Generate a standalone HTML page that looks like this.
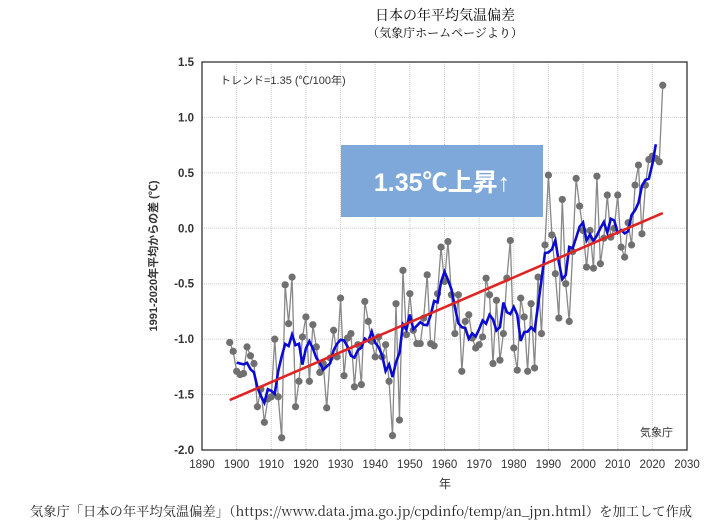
<!DOCTYPE html>
<html><head><meta charset="utf-8"><style>
body{margin:0;background:#fff;width:708px;height:525px;overflow:hidden;font-family:"Liberation Sans","Noto Sans CJK JP",sans-serif}
svg{display:block}
</style></head><body>
<svg id="c" width="708" height="525" xmlns="http://www.w3.org/2000/svg">
<text x="445" y="20" text-anchor="middle" font-size="14" font-family="'Noto Serif CJK SC','Noto Sans CJK JP',serif">日本の年平均気温偏差</text>
<text x="445" y="37" text-anchor="middle" font-size="12" font-family="'Noto Serif CJK SC','Noto Sans CJK JP',serif">（気象庁ホームページより）</text>
<g id="grid"></g>
<g id="axes"></g>
<g id="marks"></g>
<rect x="341" y="145" width="202" height="72" fill="#7fa8da"/>
<text x="442" y="191" text-anchor="middle" font-size="25" font-weight="bold" fill="#fff" font-family="'Liberation Sans','Noto Sans CJK JP',sans-serif">1.35℃上昇↑</text>
<text x="220" y="84" font-size="11" fill="#333" font-family="'Liberation Sans','Noto Sans CJK JP',sans-serif">トレンド=1.35 (℃/100年)</text>
<text x="640" y="436" font-size="11" fill="#333" font-family="'Noto Sans CJK JP',sans-serif">気象庁</text>
<text x="157" y="256" transform="rotate(-90 157 256)" text-anchor="middle" font-size="11" font-weight="bold" fill="#333" font-family="'Liberation Sans','Noto Sans CJK JP',sans-serif">1991-2020年平均からの差 (℃)</text>
<text x="445" y="488" text-anchor="middle" font-size="12" fill="#333" font-family="'Noto Sans CJK JP',sans-serif">年</text>
<text x="30" y="516" font-size="13.2" fill="#222" textLength="662" lengthAdjust="spacingAndGlyphs" font-family="'Noto Serif CJK SC','Noto Sans CJK JP',serif">気象庁「日本の年平均気温偏差」（https://www.data.jma.go.jp/cpdinfo/temp/an_jpn.html）を加工して作成</text>
</svg>
<script>
const startYear = 1898;
const anomalies = [-1.03,-1.11,-1.29,-1.32,-1.31,-1.07,-1.15,-1.22,-1.61,-1.45,-1.75,-1.54,-1.52,-1.00,-1.52,-1.89,-0.51,-0.86,-0.44,-1.61,-1.38,-0.98,-0.80,-1.38,-0.87,-1.07,-1.30,-1.22,-1.62,-1.17,-0.92,-1.16,-0.63,-1.33,-0.99,-0.95,-1.43,-1.05,-1.41,-0.66,-0.84,-1.02,-1.16,-0.98,-1.16,-1.05,-1.38,-1.87,-0.68,-1.73,-0.38,-0.96,-0.59,-0.92,-1.04,-1.04,-0.81,-0.42,-1.04,-1.06,-0.59,-0.17,-0.48,-0.12,-0.60,-0.95,-0.60,-1.29,-0.84,-0.78,-0.99,-1.08,-1.05,-0.98,-0.45,-0.60,-1.22,-0.65,-1.19,-0.95,-0.45,-0.11,-1.08,-1.28,-0.63,-0.80,-1.29,-0.68,-1.26,-0.44,-0.95,-0.15,0.48,-0.06,-0.41,-0.81,0.26,-0.50,-0.84,-0.21,0.45,0.20,-0.02,-0.35,-0.02,-0.36,0.47,-0.32,-0.09,0.30,-0.08,0.00,0.30,-0.17,-0.26,0.05,-0.15,0.39,0.57,-0.05,0.39,0.62,0.65,0.63,0.60,1.29];
const trendSlopePerCentury = [1.35];
const trendStartValue = [-1.55];
const xTicks = [1890,1900,1910,1920,1930,1940,1950,1960,1970,1980,1990,2000,2010,2020,2030];
const yTicks = [1.5,1.0,0.5,0.0,-0.5,-1.0,-1.5,-2.0];

const NS="http://www.w3.org/2000/svg";
const L=202,R=687,T=62,B=450;
const X=y=>L+(y-1890)/(2030-1890)*(R-L);
const Y=v=>T+(1.5-v)/(3.5)*(B-T);
function mk(tag,attrs,parent){const e=document.createElementNS(NS,tag);for(const k in attrs)e.setAttribute(k,attrs[k]);parent.appendChild(e);return e;}
const grid=document.getElementById('grid'),axes=document.getElementById('axes'),marks=document.getElementById('marks');
xTicks.forEach(t=>{
  const g=mk('line',{x1:X(t),x2:X(t),y1:T,y2:B,stroke:'#ccc','stroke-dasharray':'1,1','stroke-width':1},grid);
  
  
  const tx=mk('text',{x:X(t),y:B+18,'text-anchor':'middle','font-size':11.5,fill:'#333'},axes);
  tx.textContent=t;
  
  
});
yTicks.forEach(t=>{
  const g=mk('line',{x1:L,x2:R,y1:Y(t),y2:Y(t),stroke:'#ccc','stroke-dasharray':'1,1','stroke-width':1},grid);
  
  
  const tx=mk('text',{x:L-8,y:Y(t)+4,'text-anchor':'end','font-size':11.5,'font-weight':'bold',fill:'#333'},axes);
  tx.textContent=t.toFixed(1);
  
  
});
const fr=mk('rect',{x:L,y:T,width:R-L,height:B-T,fill:'none',stroke:'#333','stroke-width':1.3},axes);



const years=anomalies.map((_,i)=>startYear+i);
const gl=mk('polyline',{points:anomalies.map((v,i)=>X(years[i])+','+Y(v)).join(' '),fill:'none',stroke:'#888','stroke-width':1.3},marks);


anomalies.forEach((v,i)=>{
  const c=mk('circle',{cx:X(years[i]),cy:Y(v),r:3.6,fill:'#707070'},marks);
  
  
});
const ma=[];
for(let i=2;i<anomalies.length-2;i++){let s=0;for(let k=-2;k<=2;k++)s+=anomalies[i+k];ma.push(X(years[i])+','+Y(s/5));}
const bl=mk('polyline',{points:ma.join(' '),fill:'none',stroke:'#0a0ad0','stroke-width':2.6},marks);


const y0=years[0],y1=years[years.length-1];
const tv=y=>trendStartValue[0]+(y-y0)*trendSlopePerCentury[0]/100;
const tl=mk('line',{x1:X(y0),y1:Y(tv(y0)),x2:X(y1),y2:Y(tv(y1)),stroke:'#e02424','stroke-width':2.6},marks);


</script>
</body></html>
